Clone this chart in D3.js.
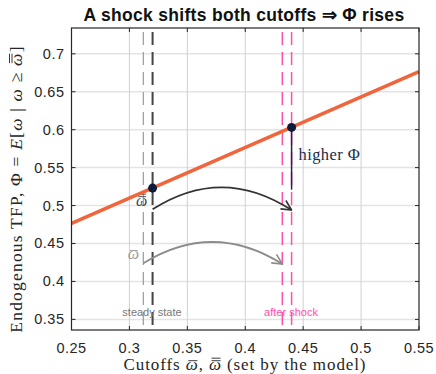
<!DOCTYPE html>
<html lang="en">
  <head>
    <meta charset="UTF-8" />
    <title></title>
    <script src="https://d3js.org/d3.v7.min.js"></script>
    <style>
      body { margin: 0; background: #fff; }
    </style>
  </head>
  <body>
    <svg id="chart" width="436" height="374"></svg>
    <script>
      // ---- data ----
      const xTicks = [0.25, 0.3, 0.35, 0.4, 0.45, 0.5, 0.55]
      const yTicks = [0.35, 0.4, 0.45, 0.5, 0.55, 0.6, 0.65, 0.7]
      const lineX = [0.25, 0.55]
      const linePhi = [0.4765, 0.6765]
      // cutoffs: [omega bar, omega double bar]
      const steadyCutoffs = [0.312, 0.32]
      const shockCutoffs = [0.432, 0.44]
      const pointX = [0.32, 0.44]
      const pointPhi = [0.523, 0.603]
      // arrows: start, peak, end
      const darkArrow = [[0.32, 0.495], [0.38, 0.524], [0.44, 0.494]]
      const grayArrow = [[0.312, 0.424], [0.372, 0.452], [0.432, 0.423]]
      const higherPhi = [0.603, 0.521]

      const svg = d3.select('svg')
      const m = { left: 71.5, right: 419, top: 28, bottom: 330 }
      const x = d3.scaleLinear().domain([0.25, 0.55]).range([m.left, m.right])
      const y = d3.scaleLinear().domain([0.336, 0.734]).range([m.bottom, m.top])

      const sans = 'Liberation Sans, Arial, sans-serif'
      const serif = 'Liberation Serif, DejaVu Serif, serif'

      // draws n small bars above the char at index i of a text node
      const bars = (parent, textSel, i, n, color) => {
        const r = textSel.node().getExtentOfChar(i)
        const w = r.width * 0.7, x0 = r.x + r.width * 0.2
        const top = r.y + r.height * 0.3
        for (let k = 0; k < n; k++) {
          parent.append('line').attr('x1', x0).attr('x2', x0 + w)
            .attr('y1', top - k * 2.5).attr('y2', top - k * 2.5)
            .attr('stroke', color).attr('stroke-width', 0.9)
        }
      }

      // grid
      svg.append('g').selectAll('line').data(yTicks).join('line')
        .attr('x1', m.left).attr('x2', m.right)
        .attr('y1', d => y(d)).attr('y2', d => y(d))
        .attr('stroke', '#e4e4e4').attr('stroke-width', 1.5)
      svg.append('g').selectAll('line').data(xTicks.slice(1, -1)).join('line')
        .attr('y1', m.top).attr('y2', m.bottom)
        .attr('x1', d => x(d)).attr('x2', d => x(d))
        .attr('stroke', '#d0d0d0').attr('stroke-width', 1)

      // cutoff dashed lines
      const vline = (v, color, w) => svg.append('line')
        .attr('x1', x(v)).attr('x2', x(v))
        .attr('y1', m.top + 4).attr('y2', m.bottom)
        .attr('stroke', color).attr('stroke-width', w)
        .attr('stroke-dasharray', '13,7')
      vline(steadyCutoffs[0], '#9a9a9a', 1.2)
      vline(steadyCutoffs[1], '#444', 2)
      vline(shockCutoffs[0], '#ff4fa8', 1.5)
      vline(shockCutoffs[1], '#ff4fa8', 1.5)

      // omega labels
      const om2 = svg.append('text').attr('x', x(steadyCutoffs[1]) - 11).attr('y', y(0.5))
        .attr('text-anchor', 'middle').attr('font-family', serif)
        .attr('font-style', 'italic').attr('font-size', 16).attr('fill', '#444')
        .text('\u03C9')
      bars(svg, om2, 0, 2, '#444')
      const om1 = svg.append('text').attr('x', x(steadyCutoffs[0]) - 10).attr('y', y(0.429))
        .attr('text-anchor', 'middle').attr('font-family', serif)
        .attr('font-style', 'italic').attr('font-size', 16).attr('fill', '#9a9a9a')
        .text('\u03C9')
      bars(svg, om1, 0, 1, '#9a9a9a')

      // TFP line
      svg.append('line')
        .attr('x1', x(lineX[0])).attr('x2', x(lineX[1]))
        .attr('y1', y(linePhi[0])).attr('y2', y(linePhi[1]))
        .attr('stroke', '#f0653c').attr('stroke-width', 3.5)

      // arrows
      const defs = svg.append('defs')
      const marker = (id, color) => defs.append('marker')
        .attr('id', id).attr('viewBox', '0 0 12 12')
        .attr('refX', 11).attr('refY', 6)
        .attr('markerWidth', 12).attr('markerHeight', 12)
        .attr('markerUnits', 'userSpaceOnUse')
        .attr('orient', 'auto')
        .append('path').attr('d', 'M1,1 L11,6 L1,11')
        .attr('fill', 'none').attr('stroke', color).attr('stroke-width', 1.6)
      marker('ahDark', '#333')
      marker('ahGray', '#8c8c8c')

      const arc = pts => {
        const [s, p, e] = pts
        const cy = 2 * p[1] - (s[1] + e[1]) / 2
        const p0 = [x(s[0]), y(s[1])], p2 = [x(e[0]), y(e[1])]
        const c = [x(p[0]), y(cy)]
        return `M${p0}Q${c} ${p2}`
      }
      svg.append('path').attr('d', arc(darkArrow))
        .attr('fill', 'none').attr('stroke', '#333').attr('stroke-width', 1.8)
        .attr('marker-end', 'url(#ahDark)')
      svg.append('path').attr('d', arc(grayArrow))
        .attr('fill', 'none').attr('stroke', '#8c8c8c').attr('stroke-width', 1.8)
        .attr('marker-end', 'url(#ahGray)')

      // higher Phi
      svg.append('line')
        .attr('x1', x(pointX[1])).attr('x2', x(pointX[1]))
        .attr('y1', y(higherPhi[0])).attr('y2', y(higherPhi[1]))
        .attr('stroke', '#1b2a49').attr('stroke-width', 1.5)
      svg.append('text').attr('x', x(pointX[1]) + 7).attr('y', y(0.56))
        .attr('font-family', serif).attr('font-size', 16.5).attr('fill', '#1b2a49')
        .attr('letter-spacing', 0.4)
        .text('higher \u03A6')

      // points
      svg.append('g').selectAll('circle').data(pointX).join('circle')
        .attr('cx', d => x(d)).attr('cy', (d, i) => y(pointPhi[i]))
        .attr('r', 4.5).attr('fill', '#0d1b3a')

      // bottom labels
      svg.append('text').attr('x', x(0.3195)).attr('y', 316)
        .attr('text-anchor', 'middle').attr('font-family', sans)
        .attr('font-size', 11).attr('fill', '#777').text('steady state')
      svg.append('text').attr('x', x(0.4395)).attr('y', 316)
        .attr('text-anchor', 'middle').attr('font-family', sans)
        .attr('font-size', 11).attr('fill', '#ff4fa8').text('after shock')

      // axes box with inward ticks
      const ax = svg.append('g').attr('font-family', sans).attr('font-size', 14.5)
        .attr('letter-spacing', 0.5).attr('fill', '#262626')
      ax.append('rect').attr('x', m.left).attr('y', m.top)
        .attr('width', m.right - m.left).attr('height', m.bottom - m.top)
        .attr('fill', 'none').attr('stroke', '#262626').attr('stroke-width', 1.2)
      xTicks.forEach(t => {
        ax.append('line').attr('x1', x(t)).attr('x2', x(t)).attr('y1', m.bottom).attr('y2', m.bottom - 4).attr('stroke', '#262626')
        ax.append('line').attr('x1', x(t)).attr('x2', x(t)).attr('y1', m.top).attr('y2', m.top + 4).attr('stroke', '#262626')
        ax.append('text').attr('x', x(t)).attr('y', 353).attr('text-anchor', 'middle').text(t)
      })
      yTicks.forEach(t => {
        ax.append('line').attr('x1', m.left).attr('x2', m.left + 4).attr('y1', y(t)).attr('y2', y(t)).attr('stroke', '#262626')
        ax.append('line').attr('x1', m.right).attr('x2', m.right - 4).attr('y1', y(t)).attr('y2', y(t)).attr('stroke', '#262626')
        ax.append('text').attr('x', m.left - 7).attr('y', y(t) + 5).attr('text-anchor', 'end').text(t)
      })

      // title
      svg.append('text').attr('x', 244).attr('y', 21).attr('text-anchor', 'middle')
        .attr('font-family', sans).attr('font-weight', 'bold').attr('font-size', 17.5)
        .attr('letter-spacing', 0.3)
        .attr('fill', '#111').text('A shock shifts both cutoffs \u21D2 \u03A6 rises')

      // axis labels
      const xl = svg.append('text').attr('x', 245).attr('y', 370).attr('text-anchor', 'middle')
        .attr('font-family', serif).attr('font-size', 17).attr('letter-spacing', 0.9)
        .attr('fill', '#262626')
      xl.append('tspan').text('Cutoffs ')
      xl.append('tspan').attr('font-style', 'italic').text('\u03C9')
      xl.append('tspan').text(', ')
      xl.append('tspan').attr('font-style', 'italic').text('\u03C9')
      xl.append('tspan').text(' (set by the model)')
      bars(svg, xl, 8, 1, '#262626')
      bars(svg, xl, 11, 2, '#262626')

      const ylg = svg.append('g').attr('transform', 'translate(22,189) rotate(-90)')
      const yl = ylg.append('text')
        .attr('text-anchor', 'middle').attr('font-family', serif)
        .attr('font-size', 17.5).attr('letter-spacing', 1.2).attr('fill', '#262626')
      yl.append('tspan').text('Endogenous TFP, \u03A6 = ')
      yl.append('tspan').attr('font-style', 'italic').text('E')
      yl.append('tspan').text('[')
      yl.append('tspan').attr('font-style', 'italic').text('\u03C9')
      yl.append('tspan').text(' | ')
      yl.append('tspan').attr('font-style', 'italic').text('\u03C9')
      yl.append('tspan').text(' \u2265 ')
      yl.append('tspan').attr('font-style', 'italic').text('\u03C9')
      yl.append('tspan').text(']')
      bars(ylg, yl, 30, 2, '#262626')
    </script>
  </body>
</html>
